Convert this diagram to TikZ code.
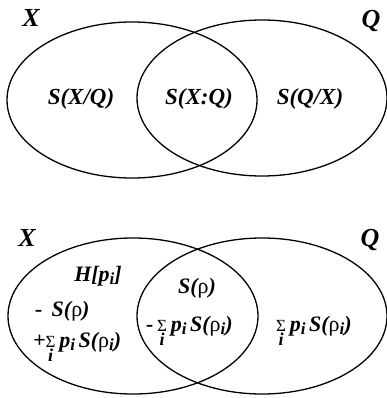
\documentclass[tikz,border=0pt]{standalone}
\usepackage{fontspec}
\setmainfont{Liberation Serif}
\usetikzlibrary{shapes.geometric}
\newcommand\sbi[1]{\raisebox{-0.35ex}{\fontsize{17}{17}\selectfont\bfseries\itshape #1}}
\newcommand\rhoup{{\normalfont ρ}}
\newsavebox\sigbox
\newcommand\sumi{\sbox\sigbox{\fontsize{17}{17}\selectfont\mdseries\upshape Σ}\usebox\sigbox\llap{\hbox to\wd\sigbox{\hss\raisebox{-14pt}{\fontsize{18}{18}\selectfont\bfseries\itshape i}\hss}}}
\begin{document}
\begin{tikzpicture}[x=1pt,y=-1pt,
  venn/.style={draw, line width=1.3pt, ellipse, minimum width=250pt, minimum height=156pt, inner sep=0pt},
  lbl/.style={font=\fontsize{23}{25}\selectfont\bfseries\itshape, inner sep=0pt},
  setname/.style={font=\fontsize{26}{28}\selectfont\bfseries\itshape, inner sep=0pt},
  txt/.style={font=\fontsize{22}{24}\selectfont\bfseries\itshape, inner sep=0pt}]
\useasboundingbox (0,0) rectangle (387,398);
% top diagram
\node[venn] (XA) at (132,100) {};
\node[venn] (QA) at (262,98) {};
\node[setname] (xa) at (31,18) {X};
\node[setname] (qa) at (371,21) {Q};
\node[lbl] (a1) at (81,99) {S(X/Q)};
\node[lbl] (a2) at (199,99) {S(X:Q)};
\node[lbl] (a3) at (310,99) {S(Q/X)};
% bottom diagram
\node[venn] (XB) at (133,316) {};
\node[venn] (QB) at (262,316) {};
\node[setname] (xb) at (27,238) {X};
\node[setname] (qb) at (370,240) {Q};
\node[txt] (h) at (98,276) {H[p\sbi{i}]};
\node[txt,anchor=base west] (m1) at (35,316) {-\, S(\rhoup)};
\node[txt,anchor=base west] (p1) at (33,347) {+\sumi\,p\sbi{i}\,S(\rhoup\sbi{i})};
\node[txt] (s1) at (197,288) {S(\rhoup)};
\node[txt,anchor=base west] (m2) at (146,331) {-\,\sumi\,p\sbi{i}\,S(\rhoup\sbi{i})};
\node[txt,anchor=base west] (r1) at (276,331) {\sumi\,p\sbi{i}\,S(\rhoup\sbi{i})};
\end{tikzpicture}
\end{document}
